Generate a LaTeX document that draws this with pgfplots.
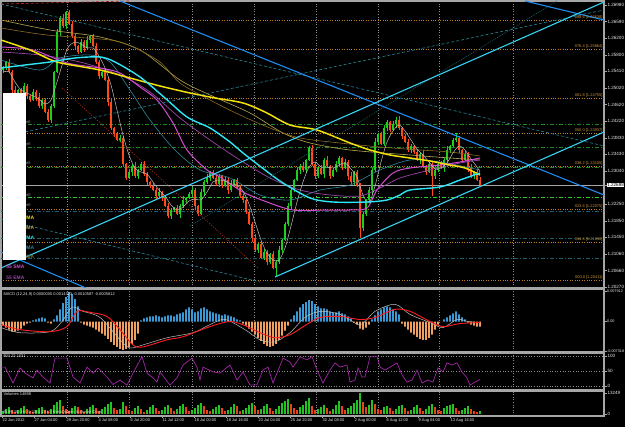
\documentclass[border=0pt]{standalone}
\usepackage{pgfplots}
\pgfplotsset{compat=1.18}
\usepackage{pgfplotstable}
\usepackage{fontspec}
\setmainfont{Liberation Sans}

\definecolor{frame}{HTML}{A6A6A6}
\definecolor{gridc}{HTML}{8C8C8C}
\definecolor{txt}{HTML}{E8E8E8}
\definecolor{upc}{HTML}{1ED01E}
\definecolor{dnc}{HTML}{FF4A1C}
\definecolor{fibc}{HTML}{C8801E}
\definecolor{fibt}{HTML}{C8953C}
\definecolor{chan}{HTML}{38D2F2}
\definecolor{dblue}{HTML}{1E8CF0}
\definecolor{tealA}{HTML}{2A8796}
\definecolor{tealB}{HTML}{1D5F6C}
\definecolor{grnA}{HTML}{1F8A1F}
\definecolor{grnB}{HTML}{2ECC2E}
\definecolor{reddot}{HTML}{B02A1A}
\definecolor{mayel}{HTML}{F2E00C}
\definecolor{macyan}{HTML}{2EE6F6}
\definecolor{makhaki}{HTML}{B8A850}
\definecolor{maolive}{HTML}{8A6A22}
\definecolor{mamag}{HTML}{D24CD2}
\definecolor{mapur}{HTML}{9A44A8}
\definecolor{mateal}{HTML}{2D8A9C}
\definecolor{magray}{HTML}{BDBDBD}
\definecolor{hblue}{HTML}{3A9AD6}
\definecolor{horange}{HTML}{F2A05E}
\definecolor{sigred}{HTML}{FF1E1E}
\definecolor{rsic}{HTML}{A326A8}
\definecolor{volg}{HTML}{22C422}
\definecolor{volr}{HTML}{E8441C}

\newcommand{\lbl}{\fontsize{4.6}{5.2}\selectfont}
\newcommand{\sml}{\fontsize{4}{4.6}\selectfont}
\newcommand{\tny}{\fontsize{3.8}{4.3}\selectfont}
\newcommand{\mab}{\fontsize{5}{5.6}\selectfont\bfseries}

\pgfplotstableread{
x o h l c
3 1.25420 1.25516 1.25348 1.25468
6 1.25468 1.25636 1.25420 1.25612
9 1.25612 1.25684 1.25348 1.25372
12 1.25372 1.25420 1.24844 1.24940
15 1.24940 1.25036 1.24700 1.24748
18 1.24748 1.24964 1.24676 1.24940
21 1.24940 1.24988 1.24796 1.24820
24 1.24820 1.25108 1.24772 1.25036
27 1.25036 1.25084 1.24724 1.24796
30 1.24796 1.24820 1.24652 1.24700
33 1.24700 1.24964 1.24676 1.24892
36 1.24892 1.24940 1.24676 1.24772
39 1.24772 1.24868 1.24508 1.24556
42 1.24556 1.24724 1.24484 1.24700
45 1.24700 1.24748 1.24388 1.24412
48 1.24412 1.24484 1.24172 1.24220
51 1.24220 1.24604 1.24148 1.24556
54 1.24556 1.25396 1.24508 1.25372
57 1.25372 1.26404 1.25348 1.26332
60 1.26332 1.26716 1.26236 1.26668
63 1.26668 1.26764 1.26428 1.26476
66 1.26476 1.26836 1.26404 1.26812
69 1.26812 1.26860 1.26500 1.26524
72 1.26524 1.26596 1.26188 1.26236
75 1.26236 1.26284 1.25924 1.25996
78 1.25996 1.26020 1.25804 1.25852
81 1.25852 1.26164 1.25828 1.26092
84 1.26092 1.26140 1.25852 1.25948
87 1.25948 1.26236 1.25900 1.26140
90 1.26140 1.26260 1.26068 1.26236
93 1.26236 1.26284 1.25972 1.25996
96 1.25996 1.26068 1.25564 1.25612
99 1.25612 1.25660 1.25204 1.25276
102 1.25276 1.25396 1.25228 1.25372
105 1.25372 1.25444 1.25156 1.25180
108 1.25180 1.25228 1.24556 1.24652
111 1.24652 1.24748 1.23980 1.24028
114 1.24028 1.24052 1.23812 1.23884
117 1.23884 1.23932 1.23716 1.23740
120 1.23740 1.23860 1.23692 1.23788
123 1.23788 1.23836 1.23092 1.23164
126 1.23164 1.23188 1.22780 1.22828
129 1.22828 1.23044 1.22804 1.22972
132 1.22972 1.23164 1.22876 1.23116
135 1.23116 1.23212 1.22828 1.22876
138 1.22876 1.23044 1.22804 1.23020
141 1.23020 1.23212 1.22996 1.23164
144 1.23164 1.23236 1.22876 1.22924
147 1.22924 1.22972 1.22660 1.22732
150 1.22732 1.22756 1.22588 1.22636
153 1.22636 1.22708 1.22516 1.22540
156 1.22540 1.22588 1.22300 1.22396
159 1.22396 1.22588 1.22348 1.22492
162 1.22492 1.22516 1.22276 1.22348
165 1.22348 1.22396 1.22132 1.22156
168 1.22156 1.22228 1.21868 1.21916
171 1.21916 1.22108 1.21844 1.22060
174 1.22060 1.22132 1.22012 1.22108
177 1.22108 1.22180 1.21940 1.21964
180 1.21964 1.22204 1.21868 1.22156
183 1.22156 1.22396 1.22108 1.22300
186 1.22300 1.22372 1.22228 1.22348
189 1.22348 1.22492 1.22324 1.22444
192 1.22444 1.22612 1.22396 1.22540
195 1.22540 1.22588 1.22084 1.22156
198 1.22156 1.22180 1.21916 1.21964
201 1.21964 1.22564 1.21940 1.22492
204 1.22492 1.22780 1.22396 1.22732
207 1.22732 1.22924 1.22684 1.22828
210 1.22828 1.22996 1.22756 1.22972
213 1.22972 1.23020 1.22804 1.22828
216 1.22828 1.22900 1.22636 1.22684
219 1.22684 1.22924 1.22612 1.22876
222 1.22876 1.22900 1.22588 1.22636
225 1.22636 1.22852 1.22612 1.22780
228 1.22780 1.22828 1.22444 1.22540
231 1.22540 1.22780 1.22492 1.22684
234 1.22684 1.22804 1.22612 1.22780
237 1.22780 1.22828 1.22564 1.22588
240 1.22588 1.22660 1.22348 1.22396
243 1.22396 1.22444 1.22228 1.22300
246 1.22300 1.22324 1.21964 1.22012
249 1.22012 1.22084 1.21700 1.21724
252 1.21724 1.21772 1.21292 1.21388
255 1.21388 1.21484 1.21052 1.21100
258 1.21100 1.21268 1.21028 1.21244
261 1.21244 1.21292 1.20884 1.20908
264 1.20908 1.21124 1.20860 1.21052
267 1.21052 1.21100 1.20740 1.20812
270 1.20812 1.21028 1.20764 1.21004
273 1.21004 1.21076 1.20644 1.20668
276 1.20668 1.20860 1.20476 1.20812
279 1.20812 1.21196 1.20764 1.21100
282 1.21100 1.21364 1.21028 1.21340
285 1.21340 1.21772 1.21316 1.21724
288 1.21724 1.22228 1.21676 1.22156
291 1.22156 1.22588 1.22084 1.22540
294 1.22540 1.22804 1.22492 1.22780
297 1.22780 1.23092 1.22756 1.23020
300 1.23020 1.23164 1.22924 1.23116
303 1.23116 1.23212 1.22972 1.23020
306 1.23020 1.23284 1.22948 1.23260
309 1.23260 1.23596 1.23236 1.23548
312 1.23548 1.23620 1.23116 1.23164
315 1.23164 1.23212 1.22804 1.22876
318 1.22876 1.23092 1.22828 1.23068
321 1.23068 1.23140 1.22900 1.22924
324 1.22924 1.23308 1.22828 1.23260
327 1.23260 1.23356 1.23068 1.23116
330 1.23116 1.23140 1.22804 1.22876
333 1.22876 1.23068 1.22852 1.23020
336 1.23020 1.23236 1.22972 1.23164
339 1.23164 1.23356 1.23092 1.23308
342 1.23308 1.23332 1.23020 1.23068
345 1.23068 1.23284 1.23044 1.23212
348 1.23212 1.23260 1.22780 1.22876
351 1.22876 1.22972 1.22684 1.22732
354 1.22732 1.22996 1.22660 1.22972
357 1.22972 1.23020 1.22612 1.22636
360 1.22636 1.22708 1.21388 1.21628
363 1.21628 1.22012 1.21556 1.21964
366 1.21964 1.22324 1.21916 1.22300
369 1.22300 1.22612 1.22276 1.22540
372 1.22540 1.23068 1.22444 1.23020
375 1.23020 1.23788 1.22972 1.23692
378 1.23692 1.23908 1.23620 1.23884
381 1.23884 1.23932 1.23620 1.23644
384 1.23644 1.24100 1.23596 1.24028
387 1.24028 1.24220 1.23956 1.24172
390 1.24172 1.24196 1.23932 1.23980
393 1.23980 1.24196 1.23956 1.24124
396 1.24124 1.24292 1.24028 1.24220
399 1.24220 1.24316 1.23980 1.24028
402 1.24028 1.24052 1.23764 1.23836
405 1.23836 1.23884 1.23668 1.23692
408 1.23692 1.23764 1.23452 1.23500
411 1.23500 1.23644 1.23428 1.23596
414 1.23596 1.23620 1.23404 1.23452
417 1.23452 1.23524 1.23236 1.23260
420 1.23260 1.23452 1.23164 1.23404
423 1.23404 1.23500 1.23068 1.23116
426 1.23116 1.23140 1.22900 1.22972
429 1.22972 1.23212 1.22948 1.23164
432 1.23164 1.23236 1.22396 1.22876
435 1.22876 1.23068 1.22804 1.23020
438 1.23020 1.23188 1.22972 1.23164
441 1.23164 1.23236 1.23044 1.23068
444 1.23068 1.23308 1.22972 1.23260
447 1.23260 1.23596 1.23212 1.23500
450 1.23500 1.23620 1.23428 1.23596
453 1.23596 1.23788 1.23572 1.23740
456 1.23740 1.23908 1.23692 1.23788
459 1.23788 1.23836 1.23428 1.23500
462 1.23500 1.23524 1.23212 1.23260
465 1.23260 1.23476 1.23236 1.23404
468 1.23404 1.23452 1.22972 1.23068
471 1.23068 1.23164 1.22828 1.22876
474 1.22876 1.22996 1.22804 1.22972
477 1.22972 1.23020 1.22756 1.22780
480 1.22780 1.22852 1.22612 1.22660
}\candles

\pgfplotsset{
  mt/.style={
    scale only axis, width=603bp, xmin=1, xmax=604,
    axis line style={draw=frame, line width=1.1bp},
    xtick={67,129,192,254,316,378,439,513},
    xticklabels={},
    xmajorgrids,
    grid style={draw=gridc, line width=0.4bp, dash pattern=on 1bp off 1.6bp},
    xtick style={draw=none},
    ytick pos=right, yticklabel pos=right,
    ytick style={draw=frame, line width=0.5bp},
    major tick length=2.5bp, tick align=outside,
    yticklabel style={font=\lbl, text=txt, inner sep=0.8bp},
    scaled ticks=false,
    /pgf/number format/assume math mode=true,
    clip=true,
  },
  hl/.style={line width=0.6bp},
}

\begin{document}
\begin{tikzpicture}
\useasboundingbox (0,0) rectangle (625bp,427bp);
\fill[black] (0,0) rectangle (625bp,427bp);

% ================= MAIN PRICE PANEL =================
\begin{axis}[mt, at={(1bp,139bp)}, anchor=south west, height=287bp,
  ymin=1.20188, ymax=1.27076,
  ytick={1.2698,1.265816,1.261832,1.257848,1.253864,1.24988,1.245896,1.241912,1.237928,1.233944,1.22996,1.221992,1.218008,1.214024,1.21004,1.206056,1.202072},
  yticklabels={1.26980,1.26590,1.26200,1.25800,1.25410,1.25020,1.24620,1.24220,1.23830,1.23430,1.23040,1.22250,1.21850,1.21450,1.21060,1.20660,1.20270},
  extra y ticks={1.2266}, extra y tick labels={1.22688},
  extra y tick style={yticklabel style={fill=white, text=black, inner sep=0.6bp}},
]
% horizontal levels
\addplot[fibc, hl, dash pattern=on 1bp off 1.4bp] coordinates {(1,1.26620) (604,1.26620)};
\addplot[fibc, hl, dash pattern=on 1bp off 1.4bp] coordinates {(1,1.25924) (604,1.25924)};
\addplot[fibc, hl, dash pattern=on 1bp off 1.4bp] coordinates {(1,1.24748) (604,1.24748)};
\addplot[fibc, hl, dash pattern=on 1bp off 1.4bp] coordinates {(1,1.23908) (604,1.23908)};
\addplot[fibc, hl, dash pattern=on 1bp off 1.4bp] coordinates {(1,1.23116) (604,1.23116)};
\addplot[fibc, hl, dash pattern=on 1bp off 1.4bp] coordinates {(1,1.22084) (604,1.22084)};
\addplot[fibc, hl, dash pattern=on 1bp off 1.4bp] coordinates {(1,1.21292) (604,1.21292)};
\addplot[fibc, hl, dash pattern=on 1bp off 1.4bp] coordinates {(1,1.20380) (604,1.20380)};
\addplot[grnA, hl, dash pattern=on 4bp off 2bp on 1bp off 2bp] coordinates {(1,1.24124) (604,1.24124)};
\addplot[grnA, hl, dash pattern=on 4bp off 2bp on 1bp off 2bp] coordinates {(1,1.23572) (604,1.23572)};
\addplot[grnA, hl, dash pattern=on 4bp off 2bp on 1bp off 2bp] coordinates {(1,1.23092) (604,1.23092)};
\addplot[grnB, line width=1bp, dash pattern=on 4bp off 2bp on 1bp off 2bp] coordinates {(1,1.22348) (604,1.22348)};
\addplot[tealB, line width=0.8bp, dash pattern=on 4bp off 2bp on 1bp off 2bp] coordinates {(1,1.22036) (604,1.22036)};
\addplot[tealB, line width=0.8bp, dash pattern=on 4bp off 2bp on 1bp off 2bp] coordinates {(1,1.21388) (604,1.21388)};
\addplot[tealB, line width=0.8bp, dash pattern=on 4bp off 2bp on 1bp off 2bp] coordinates {(1,1.20908) (604,1.20908)};
\addplot[gray!70, line width=0.7bp] coordinates {(1,1.22660) (604,1.22660)};

% candlesticks: wicks and bodies
\addplot[draw=none, forget plot, error bars/.cd, y dir=plus, y explicit, error mark=none,
  error bar style={draw=upc, line width=0.5bp}]
  table[x expr={(\thisrow{c}>\thisrow{o}) ? \thisrow{x} : -100}, y=l, y error plus expr={\thisrow{h}-\thisrow{l}}] {\candles};
\addplot[draw=none, forget plot, error bars/.cd, y dir=plus, y explicit, error mark=none,
  error bar style={draw=dnc, line width=0.5bp}]
  table[x expr={(\thisrow{o}>\thisrow{c}) ? \thisrow{x} : -100}, y=l, y error plus expr={\thisrow{h}-\thisrow{l}}] {\candles};
\addplot[draw=none, forget plot, error bars/.cd, y dir=plus, y explicit, error mark=none,
  error bar style={draw=upc, line width=1.7bp}]
  table[x expr={(\thisrow{c}>\thisrow{o}) ? \thisrow{x} : -100}, y=o, y error plus expr={\thisrow{c}-\thisrow{o}}] {\candles};
\addplot[draw=none, forget plot, error bars/.cd, y dir=plus, y explicit, error mark=none,
  error bar style={draw=dnc, line width=1.7bp}]
  table[x expr={(\thisrow{o}>\thisrow{c}) ? \thisrow{x} : -100}, y=c, y error plus expr={\thisrow{o}-\thisrow{c}}] {\candles};

% moving averages
\addplot[makhaki, line width=0.6bp, smooth] coordinates {(1,1.26620) (50,1.26380) (100,1.26212) (140,1.25900) (180,1.25180) (210,1.24820) (250,1.24388) (283,1.23908) (310,1.23668) (350,1.23500) (410,1.23380) (450,1.23308) (480,1.23260)};
\addplot[maolive, line width=0.6bp, smooth] coordinates {(1,1.26428) (47,1.26260) (110,1.26140) (133,1.25972) (160,1.25612) (180,1.25108) (210,1.24700) (240,1.24340) (270,1.24028) (300,1.23788) (340,1.23668) (380,1.23572) (420,1.23500) (450,1.23452) (480,1.23356)};
\addplot[mateal, line width=0.6bp, smooth] coordinates {(1,1.25660) (40,1.25420) (60,1.25708) (90,1.25780) (110,1.25612) (130,1.24940) (150,1.24220) (175,1.23500) (200,1.23020) (230,1.22828) (260,1.22420) (290,1.22300) (320,1.22540) (350,1.22660) (380,1.23020) (410,1.23260) (440,1.23212) (480,1.23020)};
\addplot[mapur, line width=0.7bp, smooth] coordinates {(1,1.25852) (40,1.25780) (80,1.25612) (120,1.25300) (150,1.24892) (180,1.24268) (210,1.23740) (240,1.23260) (270,1.22828) (300,1.22540) (330,1.22420) (360,1.22396) (380,1.22588) (400,1.22828) (430,1.23020) (460,1.23188) (480,1.23260)};
\addplot[mamag, line width=1bp, smooth] coordinates {(1,1.25972) (33,1.25900) (67,1.25588) (100,1.25468) (120,1.25348) (140,1.25012) (157,1.24700) (173,1.24148) (187,1.23500) (207,1.23020) (220,1.22852) (243,1.22492) (267,1.22252) (293,1.22060) (327,1.22060) (350,1.22060) (367,1.22108) (377,1.22540) (393,1.22948) (410,1.23068) (440,1.23140) (460,1.23212) (480,1.23308)};
\addplot[magray, line width=0.5bp, smooth] coordinates {(3,1.25372) (9,1.25372) (15,1.25132) (21,1.24940) (27,1.24868) (33,1.24796) (39,1.24724) (45,1.24604) (51,1.24700) (57,1.25132) (60,1.25372) (63,1.25612) (66,1.25852) (69,1.25996) (75,1.26092) (81,1.26044) (87,1.25948) (93,1.25948) (99,1.25756) (105,1.25468) (111,1.25060) (117,1.24460) (123,1.23860) (129,1.23380) (135,1.23068) (141,1.22972) (147,1.22924) (153,1.22732) (159,1.22540) (165,1.22396) (171,1.22180) (177,1.22060) (183,1.22132) (189,1.22276) (195,1.22324) (201,1.22300) (207,1.22492) (213,1.22732) (219,1.22780) (225,1.22756) (231,1.22684) (237,1.22660) (243,1.22516) (249,1.22204) (255,1.21772) (261,1.21340) (267,1.21028) (273,1.20860) (279,1.20860) (285,1.21148) (291,1.21676) (297,1.22252) (303,1.22732) (309,1.23092) (315,1.23212) (321,1.23092) (327,1.23092) (333,1.23068) (339,1.23140) (345,1.23188) (351,1.23044) (357,1.22852) (363,1.22420) (369,1.22228) (375,1.22636) (381,1.23212) (387,1.23692) (393,1.23956) (399,1.24100) (405,1.23956) (411,1.23740) (417,1.23524) (423,1.23380) (429,1.23212) (435,1.23044) (441,1.23068) (447,1.23188) (453,1.23428) (459,1.23596) (465,1.23500) (471,1.23284) (477,1.23092) (480,1.22972)};
\addplot[mayel, line width=1.5bp, smooth] coordinates {(1,1.26140) (30,1.25900) (57,1.25612) (100,1.25420) (130,1.25228) (160,1.25036) (190,1.24868) (215,1.24748) (243,1.24628) (265,1.24412) (290,1.24100) (317,1.23980) (350,1.23668) (370,1.23500) (390,1.23380) (410,1.23308) (430,1.23236) (450,1.23140) (465,1.23068) (480,1.22900)};
\addplot[macyan, line width=1.4bp, smooth] coordinates {(1,1.25468) (25,1.25540) (50,1.25612) (75,1.25708) (100,1.25732) (115,1.25612) (140,1.25252) (165,1.24748) (187,1.24292) (210,1.24028) (230,1.23692) (243,1.23428) (265,1.23020) (283,1.22708) (310,1.22348) (333,1.22252) (367,1.22252) (387,1.22300) (400,1.22420) (410,1.22540) (440,1.22612) (460,1.22780) (480,1.22948)};

% trend lines and channels
\addplot[reddot, line width=0.7bp, dash pattern=on 1bp off 1.5bp] coordinates {(62,1.24988) (258,1.20668)};
\addplot[reddot, line width=0.7bp, dash pattern=on 3bp off 2bp] coordinates {(1,1.27004) (130,1.27076)};
\addplot[tealA, line width=0.6bp, dash pattern=on 3bp off 2bp] coordinates {(1,1.27004) (604,1.23596)};
\addplot[tealA, line width=0.6bp, dash pattern=on 3bp off 2bp] coordinates {(1,1.23812) (604,1.26860)};
\addplot[tealB, line width=0.6bp, dash pattern=on 1bp off 1bp] coordinates {(190,1.21676) (557,1.27076)};
\addplot[tealA, line width=0.6bp, dash pattern=on 3bp off 2bp] coordinates {(1,1.21844) (260,1.20332)};
\addplot[dblue, line width=1.1bp] coordinates {(120,1.27076) (604,1.22420)};
\addplot[dblue, line width=1.1bp] coordinates {(525,1.27076) (604,1.26620)};
\addplot[dblue, line width=1.1bp] coordinates {(1,1.21052) (86,1.20188)};
\addplot[chan, line width=1.1bp] coordinates {(1,1.20668) (604,1.27052)};
\addplot[chan, line width=1.1bp] coordinates {(275,1.20452) (604,1.23932)};

% fibonacci labels
\begin{scope}[every node/.style={anchor=south east, font=\sml, text=fibt, inner sep=0.3bp}]
\node at (axis cs:603,1.26620) {088.6 [1.26638]};
\node at (axis cs:603,1.25924) {076.4 [1.25864]};
\node at (axis cs:603,1.24748) {061.8 [1.24755]};
\node at (axis cs:603,1.23908) {050.0 [1.23937]};
\node at (axis cs:603,1.23116) {038.2 [1.23105]};
\node at (axis cs:603,1.22084) {023.6 [1.22075]};
\node at (axis cs:603,1.21292) {014.6 [1.21338]};
\node at (axis cs:603,1.20380) {000.0 [1.20411]};
\end{scope}

% left legend box
\fill[white] (axis cs:3,1.24868) rectangle (axis cs:26,1.20860);
\begin{scope}[every node/.style={anchor=west, font=\sml, text=gray!80, inner sep=0.2bp}]
\node at (axis cs:26,1.24172) {ell};
\node at (axis cs:26,1.23644) {ell};
\node at (axis cs:26,1.23188) {ell};
\node at (axis cs:26,1.22420) {ell};
\node at (axis cs:26,1.22180) {ell};
\end{scope}
\begin{scope}[every node/.style={anchor=west, font=\mab, inner sep=0.2bp}]
\node[text=mayel] at (axis cs:26,1.21868) {MA};
\node[text=makhaki] at (axis cs:26,1.21628) {MA};
\node[text=macyan] at (axis cs:26,1.21388) {MA};
\node[text=mateal] at (axis cs:26,1.21148) {MA};
\node[text=maolive] at (axis cs:26,1.20932) {MA};
\node[text=mamag] at (axis cs:6,1.20692) {55 SMA};
\node[text=mapur] at (axis cs:6,1.20428) {55 EMA};
\end{scope}
\end{axis}

% ================= MACD PANEL =================
\begin{axis}[mt, at={(1bp,75bp)}, anchor=south west, height=63bp,
  ymin=-0.0075, ymax=0.008,
  ytick={0.0075,0,-0.00725}, yticklabels={0.007912,0.00,-0.007318},
  yticklabel style={font=\tny, inner sep=0.4bp}]
\addplot[ybar, bar width=1.8bp, bar shift=0pt, fill=hblue, draw=none] coordinates {
(33,0.00025) (36,0.0005) (39,0.00075) (42,0.001) (45,0.00075)
(54,0.0005) (57,0.0015) (60,0.003) (63,0.0045) (66,0.006) (69,0.00725) (72,0.00675) (75,0.0055) (78,0.00375)
(141,0.00025) (144,0.00075) (147,0.001) (150,0.00125) (153,0.00125) (156,0.0015) (159,0.00125) (162,0.001) (165,0.00125) (168,0.0015) (171,0.0015) (174,0.00125) (177,0.00175) (180,0.002) (183,0.00225) (186,0.003) (189,0.0035) (192,0.003) (195,0.00225) (198,0.0025) (201,0.00325) (204,0.0035) (207,0.003) (210,0.0025) (213,0.00225) (216,0.002) (219,0.00175) (222,0.0015) (225,0.00175) (228,0.0015) (231,0.00125) (234,0.001) (237,0.0005) (240,0.00025)
(291,0.0005) (294,0.0015) (297,0.0025) (300,0.0035) (303,0.00425) (306,0.00475) (309,0.00525) (312,0.005) (315,0.00425) (318,0.00375) (321,0.00325) (324,0.00325) (327,0.003) (330,0.0025) (333,0.00225) (336,0.00225) (339,0.0025) (342,0.002) (345,0.00175) (348,0.00125) (351,0.00075)
(372,0.0005) (375,0.0015) (378,0.0025) (381,0.003) (384,0.0035) (387,0.00375) (390,0.0035) (393,0.003) (396,0.0025) (399,0.00175)
(444,0.0005) (447,0.001) (450,0.0015) (453,0.002) (456,0.0025) (459,0.00175) (462,0.001) (465,0.0005)};
\addplot[ybar, bar width=1.8bp, bar shift=0pt, fill=horange, draw=none] coordinates {
(3,-0.001) (6,-0.0015) (9,-0.002) (12,-0.0025) (15,-0.0025) (18,-0.00225) (21,-0.00175) (24,-0.001) (27,-0.0005) (30,-0.00025)
(48,-0.00025) (51,-0.0005)
(81,-0.00025) (84,-0.00075) (87,-0.001) (90,-0.00125) (93,-0.0015) (96,-0.002) (99,-0.0025) (102,-0.003) (105,-0.0035) (108,-0.00425) (111,-0.005) (114,-0.00575) (117,-0.00625) (120,-0.00675) (123,-0.007) (126,-0.00675) (129,-0.00625) (132,-0.0055) (135,-0.0045) (138,-0.003)
(243,-0.0005) (246,-0.001) (249,-0.00175) (252,-0.0025) (255,-0.00325) (258,-0.004) (261,-0.00475) (264,-0.0055) (267,-0.006) (270,-0.00625) (273,-0.006) (276,-0.0055) (279,-0.0045) (282,-0.0035) (285,-0.00225) (288,-0.001)
(354,-0.00025) (357,-0.00075) (360,-0.00175) (363,-0.002) (366,-0.0015) (369,-0.00075)
(402,-0.0005) (405,-0.00125) (408,-0.002) (411,-0.00275) (414,-0.00325) (417,-0.00375) (420,-0.00425) (423,-0.0045) (426,-0.0045) (429,-0.004) (432,-0.00325) (435,-0.002) (438,-0.00075)
(468,-0.00025) (471,-0.00075) (474,-0.001) (477,-0.00125) (480,-0.00125)};
\addplot[magray, line width=0.5bp, smooth] coordinates {(1,-0.0015) (20,-0.00275) (50,-0.0025) (62,0) (72,0.0035) (83,0.0025) (100,0.001) (120,-0.0045) (130,-0.0065) (143,-0.00575) (167,-0.004) (193,-0.00275) (210,-0.00075) (225,0.0005) (245,-0.002) (260,-0.0045) (275,-0.005) (290,-0.00275) (305,0.001) (320,0.0025) (340,0.00175) (360,-0.00075) (375,0.0025) (395,0.00425) (410,0.00175) (430,-0.00025) (443,-0.0015) (457,0.0005) (468,0) (480,-0.00025)};
\addplot[sigred, line width=0.9bp, smooth] coordinates {(1,-0.00075) (20,-0.002) (50,-0.0025) (67,-0.00125) (77,0.0025) (90,0.00225) (107,0.00125) (120,-0.002) (133,-0.00575) (143,-0.00625) (167,-0.0045) (183,-0.00375) (210,-0.00125) (230,0) (245,-0.001) (260,-0.00275) (275,-0.004) (290,-0.00325) (305,-0.001) (320,0.001) (340,0.00125) (360,0.0005) (375,0.001) (395,0.003) (410,0.0025) (430,0) (443,-0.00125) (460,-0.0005) (480,-0.00025)};
\node[anchor=north west, font=\sml, text=txt, inner sep=0.5bp] at (rel axis cs:0.003,0.96) {MACD (12,24,9) 0.0000000 0.0014323 -0.0010587 -0.0005812};
\end{axis}

% ================= RSI PANEL =================
\begin{axis}[mt, at={(1bp,37bp)}, anchor=south west, height=37bp,
  ymin=-13.3, ymax=110, ytick={100,50,0}, yticklabels={100,50,0}, ymajorgrids]
\addplot[rsic, line width=0.7bp] coordinates {(1,63) (5,63) (13,10) (20,60) (25,43) (33,27) (37,53) (43,30) (50,10) (55,93) (67,93) (73,30) (80,10) (87,63) (93,43) (98,60) (107,30) (113,5) (120,20) (127,3) (133,43) (142,98) (147,43) (153,27) (157,13) (160,47) (170,3) (177,27) (183,70) (192,93) (197,63) (200,20) (203,63) (213,47) (220,43) (230,70) (237,20) (243,47) (250,3) (257,4) (263,53) (268,63) (273,10) (283,93) (290,80) (293,63) (300,97) (307,87) (312,98) (317,53) (323,10) (330,53) (335,77) (340,63) (347,70) (350,13) (355,20) (358,60) (362,30) (365,30) (370,97) (377,98) (380,63) (385,53) (390,63) (397,77) (402,37) (407,13) (412,20) (417,53) (422,10) (428,20) (433,13) (438,60) (443,47) (447,77) (452,70) (457,77) (462,47) (467,27) (470,3) (475,13) (480,22)};
\node[anchor=north west, font=\sml, text=txt, inner sep=0.5bp] at (rel axis cs:0.003,0.97) {RSI 22.1031};
\end{axis}

% ================= VOLUME PANEL =================
\begin{axis}[mt, at={(1bp,11bp)}, anchor=south west, height=25bp,
  ymin=-1262, ymax=14511, ytick={13249,0}, yticklabels={13249,0},
  xtick pos=bottom,
  extra x ticks={2,34,66,98,130,162,194,226,258,290,322,354,386,418,450},
  extra x tick labels={22 Jun 2012,27 Jun 04:00,29 Jun 20:00,4 Jul 08:00,6 Jul 20:00,11 Jul 12:00,16 Jul 00:00,18 Jul 16:00,23 Jul 04:00,25 Jul 20:00,30 Jul 08:00,2 Aug 00:00,6 Aug 12:00,9 Aug 04:00,13 Aug 16:00},
  extra x tick style={grid=none, xtick style={draw=frame, line width=0.5bp}, xticklabel style={anchor=north west, font=\sml, text=txt, inner sep=0.4bp}},
]
\addplot[ybar, bar width=1.6bp, bar shift=0pt, fill=volg, draw=none] coordinates {
(3,1890) (6,3150) (9,4410) (18,2520) (21,3780) (24,5040) (36,2520) (39,3780) (42,4410) (51,3150) (54,5670) (57,7560) (60,8820) (72,3780) (75,5040) (87,3150) (90,4410) (93,5670) (102,3150) (105,4410) (108,6300) (111,7560) (120,3150) (123,7560) (135,3780) (138,5040) (147,2520) (150,4410) (153,5670) (162,2520) (165,4410) (168,5670) (177,3150) (180,5040) (183,6300) (192,2520) (195,3780) (198,5670) (201,6930) (213,3150) (216,4410) (219,5670) (228,2520) (231,4410) (234,6300) (243,2520) (246,3780) (249,5670) (252,6930) (261,3150) (264,5040) (267,6300) (276,3150) (279,5040) (282,6930) (285,8190) (288,9450) (300,4410) (303,5670) (306,8190) (309,10080) (318,3150) (321,4410) (324,5670) (333,3150) (336,5670) (339,8190) (348,3780) (351,5040) (354,6930) (357,8820) (360,13230) (369,5670) (372,8820) (384,4410) (387,5040) (396,3150) (399,5040) (402,5670) (411,2520) (414,4410) (417,5670) (426,3150) (429,5040) (432,6300) (444,3780) (447,5040) (450,5670) (453,6300) (462,2520) (465,3780) (468,5040) (480,1890)};
\addplot[ybar, bar width=1.6bp, bar shift=0pt, fill=volr, draw=none] coordinates {
(12,2520) (15,1260) (27,3150) (30,1890) (33,1260) (45,2520) (48,1890) (63,5040) (66,3150) (69,1890) (78,4410) (81,2520) (84,1260) (96,3780) (99,1890) (114,3780) (117,2520) (126,5040) (129,2520) (132,1890) (141,3150) (144,1260) (156,3780) (159,1890) (171,3780) (174,1890) (186,4410) (189,1890) (204,5040) (207,2520) (210,1890) (222,3780) (225,1890) (237,5040) (240,1890) (255,5040) (258,2520) (270,3780) (273,1890) (291,6300) (294,3780) (297,2520) (312,5040) (315,2520) (327,3780) (330,1890) (342,5040) (345,2520) (363,7560) (366,4410) (375,6300) (378,3150) (381,2520) (390,3780) (393,1890) (405,3780) (408,1890) (420,3780) (423,1890) (435,4410) (438,2520) (441,1890) (456,3780) (459,1890) (471,3150) (474,1890) (477,1260)};
\node[anchor=north west, font=\sml, text=txt, inner sep=0.5bp] at (rel axis cs:0.003,0.97) {Volumes 14898};
\node[anchor=south west, font=\sml, text=white, opacity=0.75, inner sep=0.5bp] at (rel axis cs:0.003,0.05) {EURUSD,H4 \textcopyright{} 2001-2012, MetaQuotes Software Corp.};
\end{axis}
\end{tikzpicture}
\end{document}
